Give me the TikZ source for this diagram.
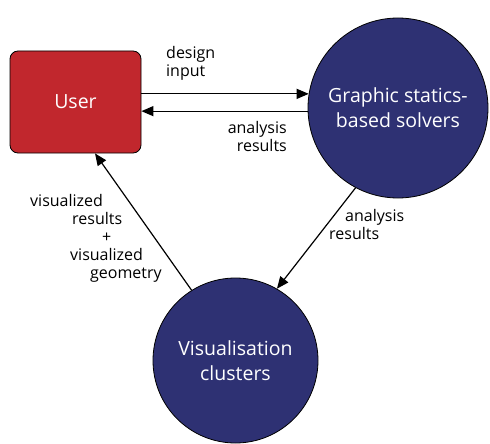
\documentclass[tikz,border=0pt]{standalone}
\usepackage{fontspec}
\setmainfont{Open Sans}
\usetikzlibrary{arrows.meta}
\definecolor{userred}{HTML}{C1272D}
\definecolor{navy}{HTML}{2E3173}

\begin{document}
\begin{tikzpicture}[x=1pt,y=-1pt,
	block/.style={draw=black, line width=0.8pt, text=white, font=\fontsize{19.5}{25}\selectfont, align=center},
	flow/.style={line width=1.2pt, -{Triangle[length=12pt,width=10pt]}},
	lbl/.style={font=\fontsize{16}{18}\selectfont, inner sep=0pt}]
	\useasboundingbox (0,0) rectangle (490,444);
	\node [block, fill=userred, rounded corners=8pt, minimum width=131pt, minimum height=102pt] (user) at (75.5,102) {User};
	\node [block, circle, fill=navy, minimum size=180pt] (solver) at (398,108) {Graphic statics-\\based solvers};
	\node [block, circle, fill=navy, minimum size=165pt] (vis) at (235.5,360.5) {Visualisation\\clusters};
	\draw [flow] (user.east |- solver.171) -- (solver.171);
	\draw [flow] (solver.182) -- (user.east |- solver.182);
	\draw [flow] (solver.242) -- (vis.60);
	\draw [flow] (vis.122) -- ([xshift=19.5]user.south);
	\node [lbl, anchor=west, align=left] (din) at (166,63) {design\\input};
	\node [lbl, anchor=east, align=right] (ares) at (287,136) {analysis\\results};
	\node [lbl, anchor=west, align=left] (ares2) at (329,224) {\hspace*{16pt}analysis\\results};
	\node [lbl, anchor=west, align=left] (vres) at (30,238) {visualized\\\hspace*{42pt}results\\\hspace*{72pt}+\\\hspace*{40pt}visualized\\\hspace*{60pt}geometry};
\end{tikzpicture}
\end{document}
